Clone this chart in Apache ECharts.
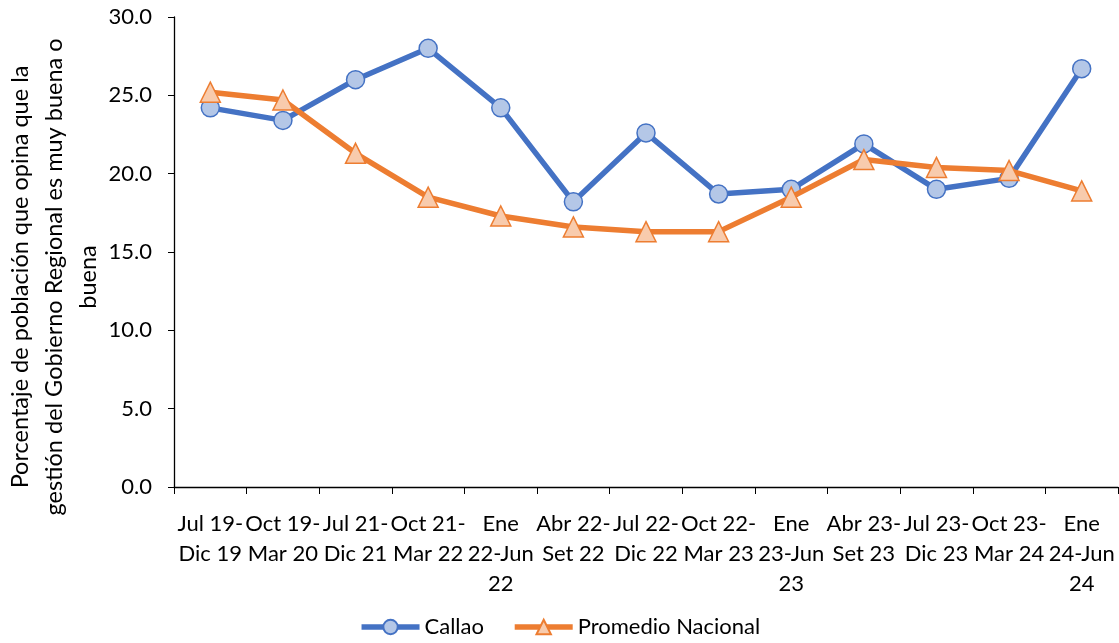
<!DOCTYPE html>
<html>
<head>
<meta charset="utf-8">
<script src="https://cdn.jsdelivr.net/npm/echarts@6/dist/echarts.min.js"></script>
<style>
  html, body { margin: 0; padding: 0; background: #fff; }
  #chart { width: 1119px; height: 643px; }
</style>
</head>
<body>
<div id="chart"></div>
<script>
// Periodos de la encuesta
const periodos = [
  'Jul 19-\nDic 19', 'Oct 19-\nMar 20', 'Jul 21-\nDic 21', 'Oct 21-\nMar 22',
  'Ene\n22-Jun\n22', 'Abr 22-\nSet 22', 'Jul 22-\nDic 22', 'Oct 22-\nMar 23',
  'Ene\n23-Jun\n23', 'Abr 23-\nSet 23', 'Jul 23-\nDic 23', 'Oct 23-\nMar 24',
  'Ene\n24-Jun\n24'
];

// Porcentaje que opina que la gestión es muy buena o buena
const callao = [24.2, 23.4, 26.0, 28.0, 24.2, 18.2, 22.6, 18.7, 19.0, 21.9, 19.0, 19.7, 26.7];
const promedioNacional = [25.2, 24.7, 21.3, 18.5, 17.3, 16.6, 16.3, 16.3, 18.5, 20.9, 20.4, 20.2, 18.9];

const tituloEjeY = 'Porcentaje de población que opina que la\ngestión del Gobierno Regional es muy buena o\nbuena';

const FONT = 'Lato, "Liberation Sans", sans-serif';
const FS = 22;
const chart = echarts.init(document.getElementById('chart'));

chart.setOption({
  animation: false,
  textStyle: { fontFamily: FONT },
  grid: { left: 174, right: 1, top: 17, bottom: 156, outerBoundsMode: 'none', containLabel: false },
  // Título del eje vertical, girado y centrado como bloque de tres líneas
  graphic: [{
    type: 'text',
    x: 54,
    y: 277,
    rotation: Math.PI / 2,
    style: {
      text: tituloEjeY,
      font: '23.5px ' + FONT,
      fill: '#000',
      align: 'center',
      verticalAlign: 'middle',
      lineHeight: 34
    }
  }],
  legend: {
    bottom: 0,
    left: 'center',
    itemWidth: 58,
    itemHeight: 18,
    itemGap: 28,
    lineStyle: { width: 5.5 },
    textStyle: { fontFamily: FONT, fontSize: FS, color: '#000' },
    data: ['Callao', 'Promedio Nacional']
  },
  xAxis: {
    type: 'category',
    data: periodos,
    boundaryGap: true,
    axisLine: { lineStyle: { color: '#000', width: 1.3 } },
    axisTick: { show: true, alignWithLabel: false, length: 7, lineStyle: { color: '#000' } },
    axisLabel: {
      interval: 0,
      color: '#000',
      fontFamily: FONT,
      fontSize: FS,
      lineHeight: 30,
      margin: 22
    }
  },
  yAxis: {
    type: 'value',
    min: 0,
    max: 30,
    interval: 5,
    splitLine: { show: false },
    axisLine: { show: true, lineStyle: { color: '#000', width: 1.3 } },
    axisTick: { show: true, length: 6, lineStyle: { color: '#000' } },
    axisLabel: {
      color: '#000',
      fontFamily: FONT,
      fontSize: FS,
      margin: 22,
      formatter: v => v.toFixed(1)
    }
  },
  series: [
    {
      name: 'Callao',
      type: 'line',
      data: callao,
      symbol: 'circle',
      symbolSize: 18,
      lineStyle: { color: '#4472C4', width: 5.5 },
      itemStyle: { color: '#B4C7E7', borderColor: '#4472C4', borderWidth: 1.5 },
      z: 2
    },
    {
      name: 'Promedio Nacional',
      type: 'line',
      data: promedioNacional,
      symbol: 'triangle',
      symbolSize: 20,
      lineStyle: { color: '#ED7D31', width: 5.5 },
      itemStyle: { color: '#F8CBAD', borderColor: '#ED7D31', borderWidth: 1.5 },
      z: 3
    }
  ]
});
</script>
</body>
</html>
